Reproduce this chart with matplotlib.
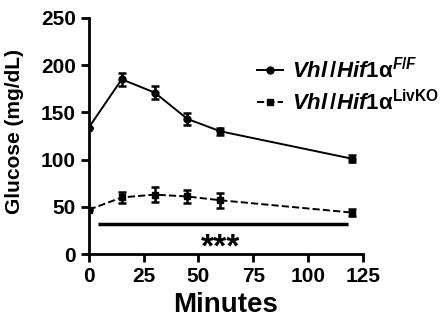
import matplotlib.pyplot as plt

plt.rcParams['font.family'] = 'Liberation Sans'
plt.rcParams['font.weight'] = 'bold'
plt.rcParams['mathtext.fontset'] = 'custom'
plt.rcParams['mathtext.rm'] = 'Liberation Sans:bold'
plt.rcParams['mathtext.it'] = 'Liberation Sans:italic:bold'
plt.rcParams['mathtext.bf'] = 'Liberation Sans:bold'

minutes = [0, 15, 30, 45, 60, 120]
ff_mean = [134, 185, 171, 143, 130, 101]
ff_err = [0, 7, 7, 6, 4, 4]
ko_mean = [47, 60, 63, 61, 57, 44]
ko_err = [0, 6, 8, 7, 8, 4]
legend_labels = [r'$\mathit{Vhl\,/Hif1}\mathrm{\alpha}^{\mathit{F/F}}$',
                 r'$\mathit{Vhl\,/Hif1}\mathrm{\alpha}^{\mathrm{LivKO}}$']

fig = plt.figure(figsize=(4.42, 3.25), dpi=100)
ax = fig.add_axes([0.201, 0.218, 0.62, 0.727])

ax.errorbar(minutes, ff_mean, yerr=ff_err, color='black', lw=1.4,
            marker='o', ms=5, capsize=3, capthick=1.8, elinewidth=1.8)
ax.errorbar(minutes, ko_mean, yerr=ko_err, color='black', lw=1.4, ls='--',
            marker='s', ms=5, capsize=3, capthick=1.8, elinewidth=1.8)

# significance bar
ax.plot([4, 118], [32, 32], color='black', lw=2.5, solid_capstyle='butt')
ax.text(60, 23, '***', ha='center', va='top', fontsize=24, fontweight='bold')

# legend with plain line handles
h1, = ax.plot([], [], color='black', lw=1.4, marker='o', ms=5)
h2, = ax.plot([], [], color='black', lw=1.4, ls='--', marker='s', ms=5)
ax.legend([h1, h2], legend_labels,
          loc='upper left', bbox_to_anchor=(0.54, 0.915), frameon=False,
          fontsize=16, handlelength=1.2, handletextpad=0.4, labelspacing=0.3)

ax.set_xlim(0, 125)
ax.set_ylim(0, 250)
ax.set_xticks([0, 25, 50, 75, 100, 125])
ax.set_yticks([0, 50, 100, 150, 200, 250])
ax.tick_params(labelsize=15, width=2, length=6, direction='out')
for s in ['top', 'right']:
    ax.spines[s].set_visible(False)
for s in ['left', 'bottom']:
    ax.spines[s].set_linewidth(2)

ax.set_xlabel('Minutes', fontsize=20, fontweight='bold')
ax.set_ylabel('Glucose (mg/dL)', fontsize=15, fontweight='bold')
ax.yaxis.set_label_coords(-0.235, 0.52)

fig.savefig('out.png', dpi=100)
